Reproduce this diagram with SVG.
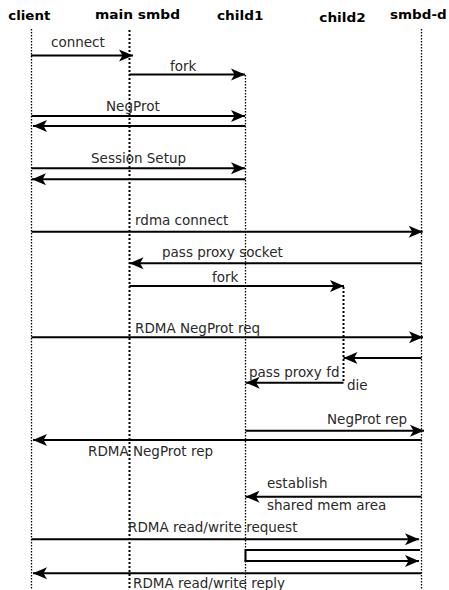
<svg xmlns="http://www.w3.org/2000/svg" width="449" height="590" viewBox="0 0 449 590">
<style>
.hdr{font-family:"DejaVu Sans",sans-serif;font-weight:bold;font-size:12px;fill:#000}
.lbl{font-family:"DejaVu Sans",sans-serif;font-size:13.5px;fill:#2a2a2a}
.life{stroke:#000;stroke-width:1.3;stroke-dasharray:1.5,1.5;fill:none}
.life2{stroke:#000;stroke-width:2;stroke-dasharray:2,2;fill:none}
.msg{stroke:#000;stroke-width:2;fill:none;marker-end:url(#ah)}
.plain{stroke:#000;stroke-width:2;fill:none}
</style>
<defs>
<marker id="ah" markerUnits="userSpaceOnUse" markerWidth="15" markerHeight="13" refX="14" refY="6.5" orient="auto" overflow="visible">
<path d="M0,0.5 L14,6.5 L0,12.5 L3.5,6.5 z" fill="#000"/>
</marker>
</defs>
<g id="client">
<text class="hdr" x="8.3" y="20" textLength="42" lengthAdjust="spacingAndGlyphs">client</text>
<line class="life" x1="31.5" y1="29" x2="31.5" y2="590"/>
</g>
<g id="main-smbd">
<text class="hdr" x="95" y="18.5" textLength="85" lengthAdjust="spacingAndGlyphs">main smbd</text>
<line class="life2" x1="129.5" y1="30" x2="129.5" y2="590"/>
</g>
<g id="child1">
<text class="hdr" x="217" y="20.2" textLength="46.5" lengthAdjust="spacingAndGlyphs">child1</text>
<line class="life" x1="245.5" y1="75" x2="245.5" y2="590"/>
</g>
<g id="child2">
<text class="hdr" x="319.3" y="21.8" textLength="46.4" lengthAdjust="spacingAndGlyphs">child2</text>
<line class="life2" x1="343.5" y1="287" x2="343.5" y2="383"/>
</g>
<g id="smbd-d">
<text class="hdr" x="390" y="18.5" textLength="56.7" lengthAdjust="spacingAndGlyphs">smbd-d</text>
<line class="life" x1="421.5" y1="29" x2="421.5" y2="590"/>
</g>
<g id="connectors">
<line class="msg" x1="31" y1="55.5" x2="133" y2="55.5"/>
<line class="msg" x1="129.5" y1="74.5" x2="245" y2="74.5"/>
<line class="msg" x1="31.5" y1="116" x2="245" y2="116"/>
<line class="msg" x1="245.5" y1="126" x2="33" y2="126"/>
<line class="msg" x1="31.5" y1="168.3" x2="245" y2="168.3"/>
<line class="msg" x1="245.5" y1="179.3" x2="32" y2="179.3"/>
<line class="msg" x1="31.5" y1="231.7" x2="422.7" y2="231.7"/>
<line class="msg" x1="421.5" y1="263.3" x2="129.5" y2="263.3"/>
<line class="msg" x1="129.5" y1="286" x2="344" y2="286"/>
<line class="msg" x1="31.5" y1="337.3" x2="423" y2="337.3"/>
<line class="msg" x1="421.5" y1="358" x2="343.5" y2="358"/>
<line class="msg" x1="343.5" y1="382.7" x2="245.7" y2="382.7"/>
<line class="msg" x1="245.5" y1="430.7" x2="424" y2="430.7"/>
<line class="msg" x1="421.5" y1="440" x2="33" y2="440"/>
<line class="msg" x1="421.5" y1="496.7" x2="245.5" y2="496.7"/>
<line class="msg" x1="31.5" y1="539.3" x2="419" y2="539.3"/>
<path class="plain" d="M420,550 L245.5,550 L245.5,561"/>
<line class="msg" x1="244.5" y1="561" x2="419" y2="561"/>
<line class="msg" x1="421.5" y1="573.3" x2="33" y2="573.3"/>
<text class="lbl" x="51" y="47">connect</text>
<text class="lbl" x="170" y="71">fork</text>
<text class="lbl" x="106" y="110.5">NegProt</text>
<text class="lbl" x="91" y="163">Session Setup</text>
<text class="lbl" x="135" y="225">rdma connect</text>
<text class="lbl" x="162" y="257.3">pass proxy socket</text>
<text class="lbl" x="212" y="281.5">fork</text>
<text class="lbl" x="135" y="333">RDMA NegProt req</text>
<text class="lbl" x="249" y="376.5">pass proxy fd</text>
<text class="lbl" x="347" y="390">die</text>
<text class="lbl" x="327" y="424">NegProt rep</text>
<text class="lbl" x="88" y="456">RDMA NegProt rep</text>
<text class="lbl" x="267" y="488">establish</text>
<text class="lbl" x="267" y="510">shared mem area</text>
<text class="lbl" x="128" y="531.7">RDMA read/write request</text>
<text class="lbl" x="133" y="588">RDMA read/write reply</text>
</g>
</svg>
